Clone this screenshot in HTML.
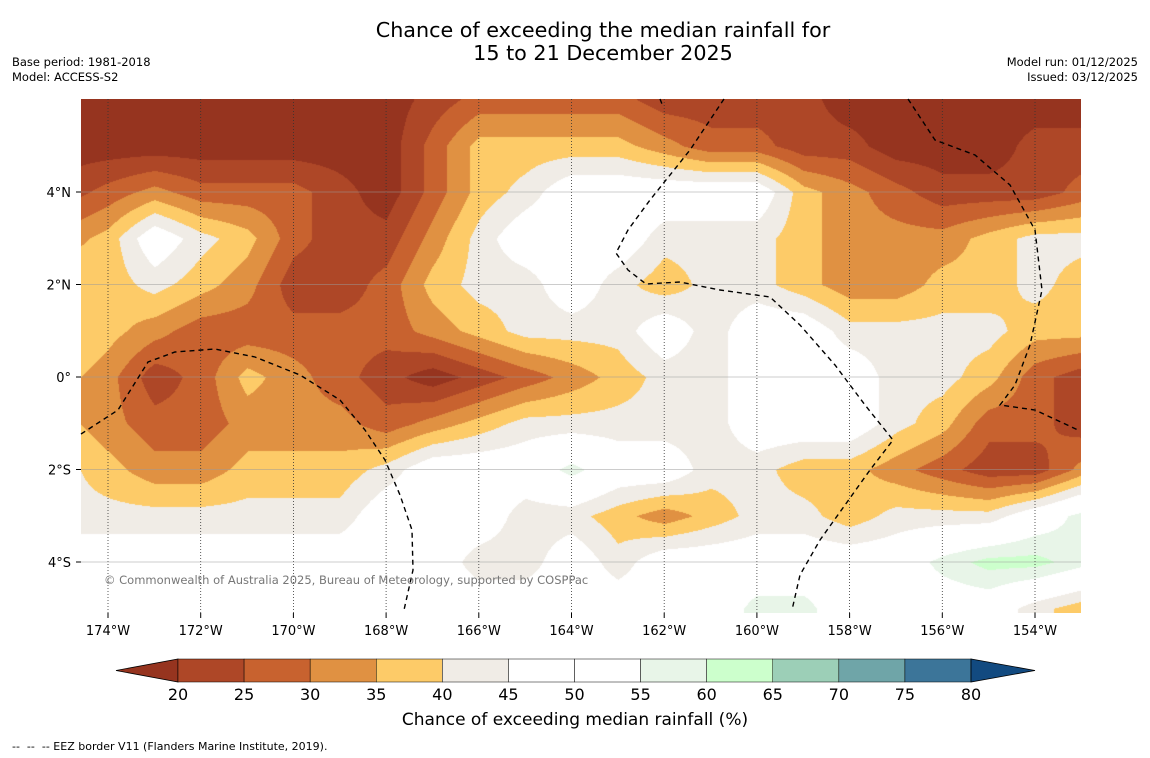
<!DOCTYPE html>
<html><head><meta charset="utf-8">
<style>
body{margin:0;background:#fff;width:1150px;height:758px;overflow:hidden;font-family:"DejaVu Sans","Liberation Sans",sans-serif;position:relative}
.t{position:absolute;color:#000}
</style></head><body>
<div class="t" style="left:0;width:1206px;top:19px;text-align:center;font-size:20.7px;line-height:23px">Chance of exceeding the median rainfall for<br>15 to 21 December 2025</div>
<div class="t" style="left:12px;top:55px;font-size:11.5px;line-height:15px">Base period: 1981-2018<br>Model: ACCESS-S2</div>
<div class="t" style="right:12px;top:55px;font-size:11.5px;line-height:15px;text-align:right">Model run: 01/12/2025<br>Issued: 03/12/2025</div>
<canvas id="map" width="1000" height="514" style="position:absolute;left:81px;top:99px"></canvas>
<svg id="ov" width="1150" height="758" style="position:absolute;left:0;top:0"></svg>
<div class="t" style="left:104px;top:573px;font-size:11.5px;color:#777">© Commonwealth of Australia 2025, Bureau of Meteorology, supported by COSPPac</div>
<div class="t" style="left:0;width:1150px;top:710px;text-align:center;font-size:17px">Chance of exceeding median rainfall (%)</div>
<div class="t" style="left:12px;top:740px;font-size:11px">-- &nbsp;-- &nbsp;-- EEZ border V11 (Flanders Marine Institute, 2019).</div>
<script>
const lons=[-175,-174,-173,-172,-171,-170,-169,-168,-167,-166,-165,-164,-163,-162,-161,-160,-159,-158,-157,-156,-155,-154,-153];
const lats=[6,5,4,3,2,1,0,-1,-2,-3,-4,-5,-6];
const row6=[17,17,17,17,17,17,17,17,22,27,27,27,27,22,22,22,22,17,17,17,17,17,17];
const row5=[17,17,17,17,17,17,17,17,27,37,37,37,37,32,27,27,22,22,17,17,17,22,22];
const row4=[22,27,32,27,27,27,22,17,27,37,42,50,50,50,50,50,37,32,27,22,22,22,27];
const row3=[32,37,50,42,37,27,22,22,32,42,50,50,50,42,42,42,37,32,32,32,37,42,42];
const row2=[42,37,42,37,32,22,22,27,37,42,42,50,42,37,42,42,37,32,32,37,37,42,37];
const row1=[42,37,32,27,27,27,27,27,32,37,42,42,42,50,42,50,50,42,42,42,42,37,37];
const row0=[37,32,22,27,37,32,27,22,17,22,27,32,37,42,42,50,50,50,42,42,37,27,22];
const rowS1=[37,32,27,27,32,32,32,27,32,37,42,42,42,42,42,50,50,50,42,37,27,27,22];
const rowS2=[42,37,32,32,37,37,37,42,50,50,50,57,50,50,42,42,37,37,32,27,22,22,32];
const rowS3=[42,42,42,42,42,42,42,50,50,50,42,42,37,32,37,42,42,37,42,42,42,50,57];
const rowS4=[50,50,50,50,50,50,50,50,50,42,42,50,42,50,50,50,50,50,50,57,62,62,57];
const rowS5=[50,50,50,50,50,50,50,50,50,50,50,50,50,50,50,57,57,50,50,50,50,42,37];
const rowS6=[50,50,50,50,50,50,50,50,50,50,50,50,50,50,50,57,57,50,50,50,50,42,37];
const grid=[row6,row5,row4,row3,row2,row1,row0,rowS1,rowS2,rowS3,rowS4,rowS5,rowS6];
const levels=[20,25,30,35,40,45,50,55,60,65,70,75,80];
const colors=["#96341f","#ae4727","#c8622f","#e09142","#fdcb68","#f0ece6","#ffffff","#ffffff","#e8f5e8","#ccffcc","#9ccfb7","#6fa5a8","#3c7599","#124a80"];
const tickLons=[-174,-172,-170,-168,-166,-164,-162,-160,-158,-156,-154];
const tickLats=[4,2,0,-2,-4];
const X=lon=>108+(lon+174)*46.35;
const Y=lat=>377-lat*46.25;
function hex(c){return[parseInt(c.substr(1,2),16),parseInt(c.substr(3,2),16),parseInt(c.substr(5,2),16)]}
const rgb=colors.map(hex);
const cv=document.getElementById('map'),ctx=cv.getContext('2d');
const W=1000,H=514;
const img=ctx.createImageData(W,H);
for(let py=0;py<H;py++){
 const lat=(377-(py+99))/46.25;
 let fi=(lats[0]-lat);fi=Math.max(0,Math.min(lats.length-1.001,fi));const i=Math.floor(fi),ti=fi-i;
 for(let px=0;px<W;px++){
  const lon=(px+81-108)/46.35-174;
  let fj=lon-lons[0];fj=Math.max(0,Math.min(lons.length-1.001,fj));const j=Math.floor(fj),tj=fj-j;
  const v=(grid[i][j]*(1-tj)+grid[i][j+1]*tj)*(1-ti)+(grid[i+1][j]*(1-tj)+grid[i+1][j+1]*tj)*ti;
  let k=0;while(k<levels.length&&v>=levels[k])k++;
  const c=rgb[k],o=(py*W+px)*4;
  img.data[o]=c[0];img.data[o+1]=c[1];img.data[o+2]=c[2];img.data[o+3]=255;
 }
}
ctx.putImageData(img,0,0);
const ov=document.getElementById('ov');const NS='http://www.w3.org/2000/svg';
const FF='DejaVu Sans, Liberation Sans, sans-serif';
function mk(t,a,p){const e=document.createElementNS(NS,t);for(const k in a)e.setAttribute(k,a[k]);(p||ov).appendChild(e);return e}
tickLons.forEach(l=>{
 const ln=mk('line',{x1:X(l),x2:X(l),y1:99,y2:613,stroke:'#333','stroke-width':0.8,'stroke-dasharray':'1,2'});
 
 
 mk('line',{x1:X(l),x2:X(l),y1:613,y2:618,stroke:'#000'});
 const t=mk('text',{x:X(l),y:635,'text-anchor':'middle','font-size':13,'font-family':FF});t.textContent=Math.abs(l)+'°W';
 
 
});
tickLats.forEach(l=>{
 const ln=mk('line',{x1:81,x2:1081,y1:Y(l),y2:Y(l),stroke:'#999','stroke-width':0.6});
 
 
 mk('line',{x1:76,x2:81,y1:Y(l),y2:Y(l),stroke:'#000'});
 const t=mk('text',{x:71,y:Y(l)+5,'text-anchor':'end','font-size':13,'font-family':FF});t.textContent=l==0?'0°':Math.abs(l)+'°'+(l>0?'N':'S');
 
 
});
const eez=["M81,434 L118,410 L148,362 L175,352 L215,349 L255,357 L300,375 L340,400 L365,430 L385,460 L400,495 L412,530 L413,570 L404,610",
"M660,99 L662,104","M724,99 L690,150 L650,200 L628,230 L616,253 L628,270 L646,284 L680,282 L720,290 L770,297 L800,325 L835,365 L865,405 L893,440 L870,470 L845,505 L820,540 L800,575 L792,610",
"M908,99 L935,140 L975,155 L1010,185 L1035,230 L1042,290 L1030,345 L1015,385 L1000,405 L1035,410 L1078,430"];
eez.forEach(d=>{const p=mk('path',{d:d,fill:'none',stroke:'#000','stroke-width':1.4,'stroke-dasharray':'5,4'});
 
 });
const cb=mk('g',{});
const x0=178,w=(971-178)/12;
mk('polygon',{points:`116,670.5 ${x0},659 ${x0},682`,fill:colors[0],stroke:'#000','stroke-width':0.8},cb);
for(let i=0;i<12;i++){mk('rect',{x:x0+i*w,y:659,width:w,height:23,fill:colors[i+1],stroke:'#000','stroke-width':0.5},cb);}
mk('polygon',{points:`971,659 971,682 1035,670.5`,fill:colors[13],stroke:'#000','stroke-width':0.8},cb);
levels.forEach((l,i)=>{const t=mk('text',{x:x0+i*w,y:700,'text-anchor':'middle','font-size':16,'font-family':FF},cb);t.textContent=l;
 
 });
</script>
</body></html>
